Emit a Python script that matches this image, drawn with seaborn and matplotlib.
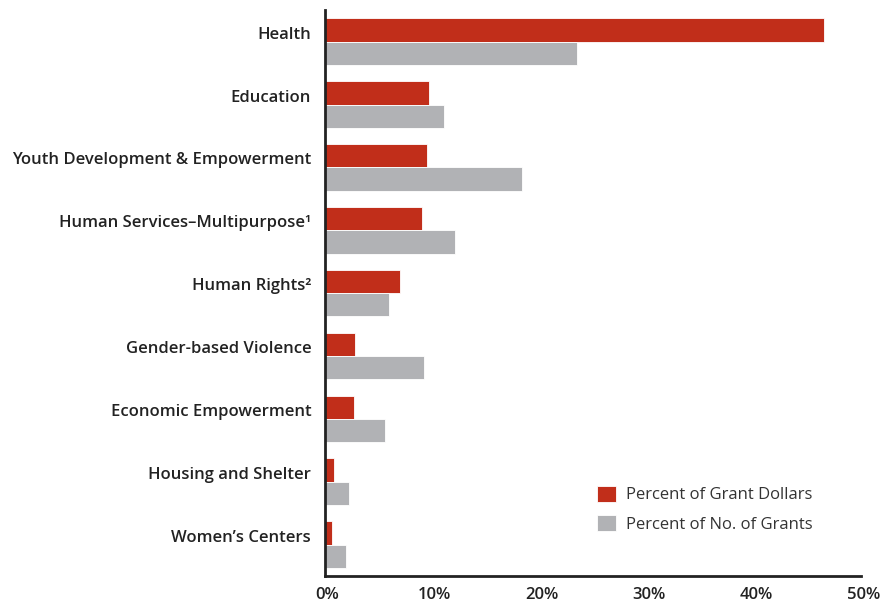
import matplotlib
matplotlib.use("Agg")
import matplotlib.pyplot as plt
import matplotlib.transforms as mtransforms
import seaborn as sns
import pandas as pd

categories = ["Health", "Education", "Youth Development & Empowerment",
              "Human Services\u2013Multipurpose\u00b9", "Human Rights\u00b2",
              "Gender-based Violence", "Economic Empowerment",
              "Housing and Shelter", "Women\u2019s Centers"]
grant_dollars = [46.5, 9.7, 9.5, 9.0, 7.0, 2.8, 2.7, 0.8, 0.65]
num_grants = [23.5, 11.1, 18.4, 12.1, 6.0, 9.2, 5.6, 2.2, 2.0]
series = ["Percent of Grant Dollars", "Percent of No. of Grants"]
xticks = [0, 10, 20, 30, 40, 50]
xtick_labels = ["0%", "10%", "20%", "30%", "40%", "50%"]

df = pd.DataFrame({
    "category": categories * 2,
    "value": grant_dollars + num_grants,
    "series": [series[0]] * len(categories) + [series[1]] * len(categories),
})

sns.set_theme(style="white")
plt.rcParams["font.family"] = ["Open Sans", "DejaVu Sans"]

fig = plt.figure(figsize=(8.82, 6.05), dpi=100)
ax = fig.add_axes([0.3685, 0.048, 0.608, 0.935])

sns.barplot(data=df, x="value", y="category", hue="series", order=categories,
            hue_order=series, palette=["#C12E1A", "#B1B2B5"], saturation=1,
            orient="h", width=0.74, ax=ax, edgecolor="white", linewidth=0.6,
            errorbar=None)

ax.set_xlim(0, 50)
ax.set_ylim(8.5, -0.5)
ax.set_xticks(xticks)
ax.set_xticklabels(xtick_labels, fontsize=12, fontweight="semibold", color="#222222")
ax.set_yticklabels(categories, fontsize=12, fontweight="semibold", color="#222222")
ax.tick_params(axis="y", length=0, pad=10)
ax.tick_params(axis="x", length=0, pad=8)
ax.set_xlabel("")
ax.set_ylabel("")
for s in ["top", "right"]:
    ax.spines[s].set_visible(False)
for s in ["left", "bottom"]:
    ax.spines[s].set_visible(True)
    ax.spines[s].set_color("#222222")
    ax.spines[s].set_linewidth(2)

shift_up = mtransforms.ScaledTranslation(0, 9 / 100, fig.dpi_scale_trans)
for lab in ax.get_yticklabels():
    lab.set_transform(lab.get_transform() + shift_up)
shift_x = mtransforms.ScaledTranslation(2 / 100, 0, fig.dpi_scale_trans)
for lab in ax.get_xticklabels():
    lab.set_transform(lab.get_transform() + shift_x)

leg = ax.legend(loc="lower left", bbox_to_anchor=(0.48, 0.05), frameon=False,
                fontsize=12, handlelength=1.1, handleheight=1.1,
                handletextpad=0.6, labelspacing=0.7)
for t in leg.get_texts():
    t.set_color("#333333")

fig.savefig("out.png", dpi=100)
